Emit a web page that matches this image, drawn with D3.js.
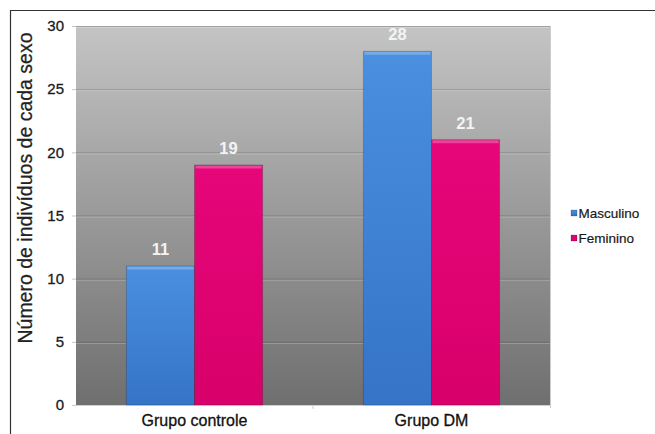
<!DOCTYPE html>
<html>
<head>
<meta charset="utf-8">
<script src="https://cdn.jsdelivr.net/npm/d3@7"></script>
<style>
  body { margin: 0; background: #fff; }
  svg { display: block; font-family: "Liberation Sans", Arial, Helvetica, sans-serif; }
</style>
</head>
<body>
<div id="chart"></div>
<script>
const groups = ["Grupo controle", "Grupo DM"];
const series = ["Masculino", "Feminino"];
const masculino = [11, 28];
const feminino = [19, 21];
const yTicks = [0, 5, 10, 15, 20, 25, 30];
const yTitle = "Número de indivíduos de cada sexo";

const width = 655;
const height = 434;
const plot = { left: 76, right: 550, top: 26, bottom: 405 };

const table = groups.map((g, i) => ({
  group: g,
  values: [
    { key: series[0], value: masculino[i] },
    { key: series[1], value: feminino[i] },
  ],
}));

const svg = d3
  .select("#chart")
  .append("svg")
  .attr("width", width)
  .attr("height", height);

const defs = svg.append("defs");

// background gradient of plot area
let bg = defs
  .append("linearGradient")
  .attr("id", "bg")
  .attr("x1", 0).attr("y1", 0).attr("x2", 0).attr("y2", 1);
bg.append("stop").attr("offset", "0%").attr("stop-color", "#c4c4c4");
bg.append("stop").attr("offset", "100%").attr("stop-color", "#6f6f6f");

let colors = { Masculino: ["#4a8fe0", "#3574c6"], Feminino: ["#e6067a", "#d8006a"] };
series.forEach((s) => {
  let g = defs
    .append("linearGradient")
    .attr("id", "grad-" + s)
    .attr("x1", 0).attr("y1", 0).attr("x2", 0).attr("y2", 1);
  g.append("stop").attr("offset", "0%").attr("stop-color", colors[s][0]);
  g.append("stop").attr("offset", "100%").attr("stop-color", colors[s][1]);
});

// frame lines (top and left)
svg.append("line")
  .attr("x1", 10).attr("x2", width).attr("y1", 10.5).attr("y2", 10.5)
  .attr("stroke", "#333").attr("stroke-width", 1.2);
svg.append("line")
  .attr("x1", 10.5).attr("x2", 10.5).attr("y1", 10).attr("y2", height)
  .attr("stroke", "#333").attr("stroke-width", 1.2);

const x = d3.scaleBand().domain(groups).range([plot.left, plot.right]);
const xSub = d3
  .scaleBand()
  .domain(series)
  .range([0, x.bandwidth()])
  .paddingInner(0)
  .paddingOuter(0.74);
const y = d3.scaleLinear().domain([0, 30]).range([plot.bottom, plot.top]);

svg.append("rect")
  .attr("x", plot.left).attr("y", plot.top)
  .attr("width", plot.right - plot.left)
  .attr("height", plot.bottom - plot.top)
  .attr("fill", "url(#bg)");

// gridlines
let grid = svg.append("g");
grid.selectAll("line.dark")
  .data(yTicks.filter((d) => d > 0))
  .join("line")
  .attr("class", "dark")
  .attr("x1", plot.left).attr("x2", plot.right)
  .attr("y1", (d) => y(d) + 0.5).attr("y2", (d) => y(d) + 0.5)
  .attr("stroke", "#000").attr("stroke-opacity", 0.18);
grid.selectAll("line.light")
  .data(yTicks.filter((d) => d > 0))
  .join("line")
  .attr("class", "light")
  .attr("x1", plot.left).attr("x2", plot.right)
  .attr("y1", (d) => y(d) + 1.5).attr("y2", (d) => y(d) + 1.5)
  .attr("stroke", "#fff").attr("stroke-opacity", 0.25);

// right edge + bottom edge light lines
svg.append("line")
  .attr("x1", plot.right + 0.5).attr("x2", plot.right + 0.5)
  .attr("y1", plot.top).attr("y2", plot.bottom + 3)
  .attr("stroke", "#ccc");
svg.append("line")
  .attr("x1", plot.left).attr("x2", plot.right)
  .attr("y1", plot.bottom + 0.5).attr("y2", plot.bottom + 0.5)
  .attr("stroke", "#d0d0d0");

// bars
let groupSel = svg
  .selectAll("g.group")
  .data(table)
  .join("g")
  .attr("class", "group")
  .attr("transform", (d) => `translate(${x(d.group)},0)`);

let barSel = groupSel
  .selectAll("g.bar")
  .data((d) => d.values)
  .join("g")
  .attr("class", "bar");

barSel.append("rect")
  .attr("x", (d) => xSub(d.key))
  .attr("y", (d) => y(d.value))
  .attr("width", xSub.bandwidth())
  .attr("height", (d) => y(0) - y(d.value))
  .attr("fill", (d) => `url(#grad-${d.key})`)
  .attr("stroke", "#000")
  .attr("stroke-opacity", 0.18)
  .attr("stroke-width", 1);

// top bevel highlight
barSel.append("rect")
  .attr("x", (d) => xSub(d.key) + 1)
  .attr("y", (d) => y(d.value) + 0.5)
  .attr("width", xSub.bandwidth() - 2)
  .attr("height", 3)
  .attr("fill", "#fff")
  .attr("fill-opacity", 0.25);

// value labels
barSel.append("text")
  .attr("x", (d) => xSub(d.key) + xSub.bandwidth() / 2)
  .attr("y", (d) => y(d.value) - 11)
  .attr("text-anchor", "middle")
  .attr("font-size", 16.5)
  .attr("font-weight", "bold")
  .attr("fill", "#f4f4f4")
  .text((d) => d.value);

// y axis
let yAxis = d3.axisLeft(y).tickValues(yTicks).tickSize(4).tickPadding(8);
let yG = svg.append("g").attr("transform", `translate(${plot.left},0)`).call(yAxis);
yG.select(".domain").remove();
yG.selectAll(".tick line").attr("stroke", "#c8c8c8");
yG.selectAll(".tick text")
  .attr("font-size", 15)
  .attr("fill", "#1a1a1a")
  .attr("stroke", "#1a1a1a")
  .attr("stroke-width", 0.3)
  .attr("font-family", "Liberation Sans, Arial, sans-serif");

// x axis
let xAxis = d3.axisBottom(x).tickSize(0).tickPadding(10);
let xG = svg.append("g").attr("transform", `translate(0,${plot.bottom})`).call(xAxis);
xG.select(".domain").remove();
xG.selectAll(".tick text")
  .attr("font-size", 16)
  .attr("fill", "#111")
  .attr("stroke", "#111")
  .attr("stroke-width", 0.3)
  .attr("font-family", "Liberation Sans, Arial, sans-serif");

// group separators on x axis
svg.selectAll("line.sep")
  .data(groups.slice(1))
  .join("line")
  .attr("class", "sep")
  .attr("x1", (d) => x(d)).attr("x2", (d) => x(d))
  .attr("y1", plot.bottom).attr("y2", plot.bottom + 4)
  .attr("stroke", "#ccc");

// y title
svg.append("text")
  .attr("transform", `translate(32,188) rotate(-90)`)
  .attr("text-anchor", "middle")
  .attr("font-size", 19.5)
  .attr("fill", "#222")
  .attr("stroke", "#222")
  .attr("stroke-width", 0.25)
  .text(yTitle);

// legend
let legend = svg
  .selectAll("g.legend")
  .data(series)
  .join("g")
  .attr("class", "legend")
  .attr("transform", (d, i) => `translate(571,${213 + i * 25})`);
legend.append("rect")
  .attr("x", 0).attr("y", -3)
  .attr("width", 6).attr("height", 6)
  .attr("fill", (d) => `url(#grad-${d})`)
  .attr("stroke", "#000").attr("stroke-opacity", 0.3).attr("stroke-width", 0.6);
legend.append("text")
  .attr("x", 7.5).attr("y", 0)
  .attr("dy", "0.35em")
  .attr("font-size", 13.5)
  .attr("fill", "#1a1a1a")
  .attr("stroke", "#1a1a1a")
  .attr("stroke-width", 0.2)
  .text((d) => d);
</script>
</body>
</html>
